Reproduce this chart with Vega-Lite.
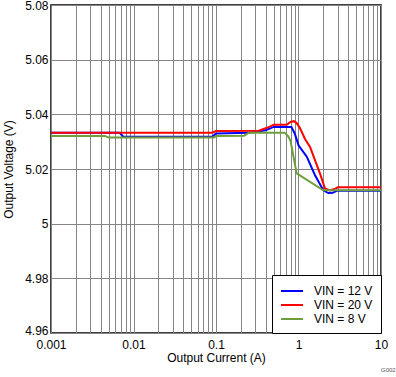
{
  "$schema": "https://vega.github.io/schema/vega-lite/v6.json",
  "width": 330,
  "height": 328,
  "autosize": {"type": "none"},
  "padding": {"left": 51, "top": 5, "right": 15, "bottom": 44},
  "background": "white",
  "config": {
    "font": "Liberation Sans",
    "view": {"stroke": "#000000", "strokeWidth": 1.5},
    "axis": {"labelFont": "Liberation Sans", "titleFont": "Liberation Sans", "labelFontSize": 12, "titleFontSize": 12, "labelColor": "#000", "titleColor": "#000", "titleFontWeight": "normal", "gridColor": "#858585", "gridOpacity": 1, "gridWidth": 1, "domain": false, "ticks": false}
  },
  "title": {"text": "G002", "orient": "bottom", "anchor": "end", "fontSize": 6, "fontWeight": "normal", "color": "#555", "offset": 4, "dx": 8},
  "data": {"values": [
    {"x": 0.001, "v": 5.0333, "s": "VIN = 12 V"},
    {"x": 0.0068, "v": 5.0333, "s": "VIN = 12 V"},
    {"x": 0.0075, "v": 5.0318, "s": "VIN = 12 V"},
    {"x": 0.09, "v": 5.0318, "s": "VIN = 12 V"},
    {"x": 0.1, "v": 5.033, "s": "VIN = 12 V"},
    {"x": 0.25, "v": 5.0333, "s": "VIN = 12 V"},
    {"x": 0.4, "v": 5.0342, "s": "VIN = 12 V"},
    {"x": 0.5, "v": 5.0354, "s": "VIN = 12 V"},
    {"x": 0.82, "v": 5.0354, "s": "VIN = 12 V"},
    {"x": 0.9, "v": 5.033, "s": "VIN = 12 V"},
    {"x": 1.0, "v": 5.0287, "s": "VIN = 12 V"},
    {"x": 1.26, "v": 5.0245, "s": "VIN = 12 V"},
    {"x": 1.58, "v": 5.0178, "s": "VIN = 12 V"},
    {"x": 2.0, "v": 5.0122, "s": "VIN = 12 V"},
    {"x": 2.3, "v": 5.0112, "s": "VIN = 12 V"},
    {"x": 2.6, "v": 5.0113, "s": "VIN = 12 V"},
    {"x": 2.9, "v": 5.012, "s": "VIN = 12 V"},
    {"x": 10, "v": 5.012, "s": "VIN = 12 V"},
    {"x": 0.001, "v": 5.0333, "s": "VIN = 20 V"},
    {"x": 0.09, "v": 5.0333, "s": "VIN = 20 V"},
    {"x": 0.1, "v": 5.0339, "s": "VIN = 20 V"},
    {"x": 0.33, "v": 5.034, "s": "VIN = 20 V"},
    {"x": 0.45, "v": 5.0355, "s": "VIN = 20 V"},
    {"x": 0.5, "v": 5.0362, "s": "VIN = 20 V"},
    {"x": 0.72, "v": 5.0362, "s": "VIN = 20 V"},
    {"x": 0.8, "v": 5.0372, "s": "VIN = 20 V"},
    {"x": 0.88, "v": 5.0375, "s": "VIN = 20 V"},
    {"x": 0.95, "v": 5.0368, "s": "VIN = 20 V"},
    {"x": 1.04, "v": 5.035, "s": "VIN = 20 V"},
    {"x": 1.2, "v": 5.031, "s": "VIN = 20 V"},
    {"x": 1.38, "v": 5.0281, "s": "VIN = 20 V"},
    {"x": 1.82, "v": 5.0184, "s": "VIN = 20 V"},
    {"x": 2.09, "v": 5.0129, "s": "VIN = 20 V"},
    {"x": 2.4, "v": 5.0122, "s": "VIN = 20 V"},
    {"x": 2.8, "v": 5.0128, "s": "VIN = 20 V"},
    {"x": 3.0, "v": 5.0133, "s": "VIN = 20 V"},
    {"x": 10, "v": 5.0133, "s": "VIN = 20 V"},
    {"x": 0.001, "v": 5.0321, "s": "VIN = 8 V"},
    {"x": 0.0045, "v": 5.0321, "s": "VIN = 8 V"},
    {"x": 0.005, "v": 5.0315, "s": "VIN = 8 V"},
    {"x": 0.095, "v": 5.0315, "s": "VIN = 8 V"},
    {"x": 0.1, "v": 5.0321, "s": "VIN = 8 V"},
    {"x": 0.22, "v": 5.0322, "s": "VIN = 8 V"},
    {"x": 0.25, "v": 5.0333, "s": "VIN = 8 V"},
    {"x": 0.68, "v": 5.0333, "s": "VIN = 8 V"},
    {"x": 0.75, "v": 5.032, "s": "VIN = 8 V"},
    {"x": 0.8, "v": 5.0303, "s": "VIN = 8 V"},
    {"x": 0.95, "v": 5.0184, "s": "VIN = 8 V"},
    {"x": 2.0, "v": 5.0122, "s": "VIN = 8 V"},
    {"x": 10, "v": 5.0122, "s": "VIN = 8 V"}
  ]},
  "mark": {"type": "line", "strokeWidth": 2, "clip": true},
  "encoding": {
    "x": {
      "field": "x", "type": "quantitative",
      "scale": {"type": "log", "domain": [0.001, 10], "nice": false},
      "axis": {
        "title": "Output Current (A)",
        "values": [0.001,0.002,0.003,0.004,0.005,0.006,0.007,0.008,0.009,0.01,0.02,0.03,0.04,0.05,0.06,0.07,0.08,0.09,0.1,0.2,0.3,0.4,0.5,0.6,0.7,0.8,0.9,1,2,3,4,5,6,7,8,9,10],
        "format": "~g",
        "labelExpr": "indexof([0.001,0.01,0.1,1,10], datum.value) >= 0 ? datum.label : ''",
        "labelPadding": 6,
        "titlePadding": 2,
        "labelFlush": false
      }
    },
    "y": {
      "field": "v", "type": "quantitative",
      "scale": {"domain": [4.96, 5.08], "nice": false, "zero": false},
      "axis": {
        "title": "Output Voltage (V)",
        "values": [4.96, 4.98, 5, 5.02, 5.04, 5.06, 5.08],
        "format": ".2~f",
        "labelPadding": 3,
        "titlePadding": 9,
        "labelFlush": false,
        "labelOffset": {"condition": {"test": "datum.value < 4.965", "value": -3}, "value": 0}
      }
    },
    "color": {
      "field": "s", "type": "nominal",
      "scale": {"domain": ["VIN = 12 V", "VIN = 20 V", "VIN = 8 V"], "range": ["#0000FF", "#FF0000", "#6E9E3C"]},
      "legend": {
        "title": null,
        "orient": "bottom-right",
        "offset": 0,
        "fillColor": "white",
        "strokeColor": "#000",
        "padding": 8,
        "symbolType": "M-1,0L2.14,0",
        "symbolSize": 196,
        "symbolStrokeWidth": 2,
        "labelFontSize": 12,
        "labelFont": "Liberation Sans",
        "labelColor": "#000",
        "rowPadding": -1,
        "labelOffset": 18
      }
    }
  }
}
